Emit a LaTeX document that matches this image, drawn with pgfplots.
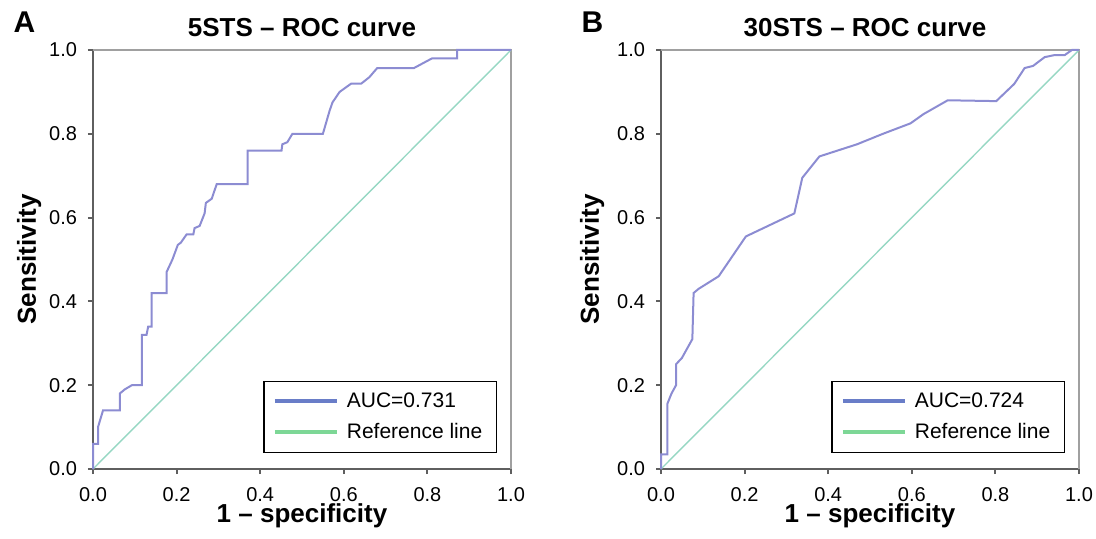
\documentclass[border=0pt]{standalone}
\usepackage{fontspec}
\setmainfont{Liberation Sans}
\usepackage{pgfplots}
\pgfplotsset{compat=1.18}

\definecolor{rocline}{RGB}{140,140,210}
\definecolor{refline}{RGB}{150,215,195}
\definecolor{legblue}{RGB}{105,125,200}
\definecolor{leggreen}{RGB}{125,215,150}
\definecolor{axdark}{RGB}{95,95,95}
\definecolor{axlight}{RGB}{160,160,160}

\pgfplotsset{
  rocstyle/.style={
    scale only axis,
    width=209bp, height=209.5bp,
    xmin=0, xmax=1, ymin=0, ymax=1,
    clip=false,
    axis lines*=left,
    axis line style={axdark, line width=1.3bp},
    tick align=outside,
    major tick length=2.5bp,
    tick style={axdark, line width=1bp},
    xtick={0,0.2,0.4,0.6,0.8,1},
    ytick={0,0.2,0.4,0.6,0.8,1},
    tick label style={font=\fontsize{10bp}{12bp}\selectfont},
    /pgf/number format/assume math mode=true,
    /pgf/number format/fixed,
    /pgf/number format/fixed zerofill,
    /pgf/number format/precision=1,
    yticklabel style={xshift=-2bp},
    xticklabel style={yshift=-3bp},
    xlabel={1 – specificity},
    ylabel={Sensitivity},
    label style={font=\bfseries\fontsize{13bp}{15bp}\selectfont},
    xlabel style={at={(axis description cs:0.5,-0.112)}, anchor=center},
    ylabel style={at={(axis description cs:-0.153,0.5)}, anchor=center},
    every axis title shift=0pt,
    title style={font=\bfseries\fontsize{13bp}{15bp}\selectfont, anchor=center},
    legend cell align=left,
    legend style={
      at={(axis description cs:0.9665,0.038)}, anchor=south east,
      draw=black, line width=0.7bp,
      font=\fontsize{10.5bp}{12bp}\selectfont,
      inner xsep=4.5bp, inner ysep=4bp, row sep=3.5bp, column sep=1.5bp,
      nodes={inner xsep=2.5bp, inner ysep=0bp, text height=9bp, text depth=3bp},
    },
    legend image code/.code={\draw[#1, line width=2bp] (0bp,0bp) -- (31bp,0bp);},
  },
}

\begin{document}
\begin{tikzpicture}
\useasboundingbox (-46.5bp,-35bp) rectangle (501.5bp,234.5bp);

% panel A
\begin{axis}[rocstyle,
  title={5STS – ROC curve},
  title style={at={(axis description cs:0.5,1.053)}},
]
\draw[axlight, line width=1bp] (axis description cs:0,1) -- (axis description cs:1,1) -- (axis description cs:1,0);
\addplot[refline, line width=0.7bp, forget plot] coordinates {(0,0) (1,1)};
\addplot[rocline, line width=1bp, forget plot] coordinates {
(0,0) (0,0.06) (0.012,0.06) (0.012,0.10) (0.024,0.14) (0.064,0.14) (0.064,0.18)
(0.076,0.19) (0.093,0.20) (0.117,0.20) (0.117,0.32) (0.128,0.32) (0.132,0.34)
(0.14,0.34) (0.14,0.42) (0.176,0.42) (0.176,0.47) (0.19,0.50) (0.203,0.535)
(0.21,0.54) (0.224,0.56) (0.24,0.56) (0.243,0.575) (0.255,0.58) (0.267,0.61)
(0.27,0.635) (0.284,0.645) (0.296,0.68) (0.37,0.68) (0.37,0.76) (0.451,0.76)
(0.453,0.775) (0.465,0.78) (0.477,0.80) (0.55,0.80) (0.566,0.855) (0.573,0.875)
(0.59,0.90) (0.618,0.92) (0.642,0.92) (0.661,0.935) (0.68,0.957) (0.768,0.957)
(0.811,0.98) (0.871,0.98) (0.871,1.0) (1,1)};
\addlegendimage{legblue}
\addlegendentry{AUC=0.731}
\addlegendimage{leggreen}
\addlegendentry{Reference line}
\node[font=\bfseries\fontsize{15bp}{17bp}\selectfont] at (axis description cs:-0.164,1.066) {A};
\end{axis}

% panel B
\begin{axis}[rocstyle, at={(284bp,0bp)},
  title={30STS – ROC curve},
  title style={at={(axis description cs:0.488,1.053)}},
  ylabel style={at={(axis description cs:-0.165,0.5)}},
]
\draw[axlight, line width=1bp] (axis description cs:0,1) -- (axis description cs:1,1) -- (axis description cs:1,0);
\addplot[refline, line width=0.7bp, forget plot] coordinates {(0,0) (1,1)};
\addplot[rocline, line width=1bp, forget plot] coordinates {
(0,0) (0,0.035) (0.015,0.035) (0.015,0.155) (0.025,0.18) (0.036,0.20) (0.036,0.25)
(0.05,0.265) (0.075,0.31) (0.078,0.42) (0.09,0.43) (0.138,0.46) (0.162,0.495)
(0.203,0.555) (0.319,0.61) (0.338,0.695) (0.379,0.746) (0.469,0.775) (0.531,0.80)
(0.597,0.825) (0.628,0.847) (0.686,0.88) (0.802,0.878) (0.845,0.919) (0.87,0.957)
(0.89,0.962) (0.918,0.983) (0.942,0.988) (0.966,0.988) (0.983,1.0) (1,1)};
\addlegendimage{legblue}
\addlegendentry{AUC=0.724}
\addlegendimage{leggreen}
\addlegendentry{Reference line}
\node[font=\bfseries\fontsize{15bp}{17bp}\selectfont] at (axis description cs:-0.164,1.066) {B};
\end{axis}
\end{tikzpicture}
\end{document}
